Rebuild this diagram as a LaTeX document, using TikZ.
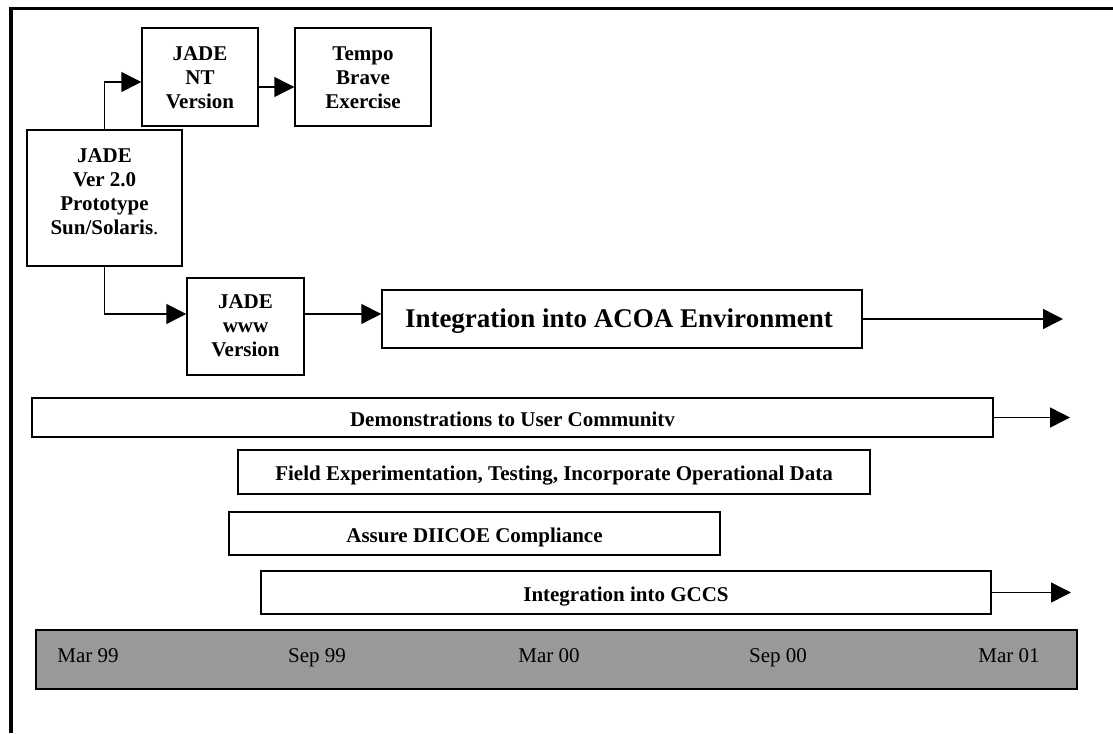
\documentclass[tikz,border=0pt]{standalone}
\usepackage{fontspec}
\setmainfont{Liberation Serif}
\usetikzlibrary{arrows.meta}
\definecolor{bargray}{RGB}{153,153,153}
\tikzset{
 box/.style={draw, line width=1.1pt, inner sep=0pt, font=\bfseries\fontsize{15.75}{18}\selectfont},
 bar/.style={draw, line width=1.1pt, inner sep=0pt, font=\bfseries\fontsize{15.75}{18}\selectfont, text height=12.9pt, text depth=0pt},
 arr/.style={line width=1.1pt, -{Triangle[length=15pt,width=15pt]}},
 tl/.style={font=\fontsize{15.75}{18}\selectfont, anchor=base, inner sep=0pt}
}
\newcommand\tbox[4]{\parbox[c][#2][t]{#1}{\centering\rule{0pt}{#3}#4}}
\begin{document}
\begin{tikzpicture}[x=0.75pt,y=-0.75pt]
\useasboundingbox (0,0) rectangle (1113,733);
\draw[line width=2.6pt] (1113,8.5) -- (10.8,8.5) -- (10.8,733);

\node[box] (main) at (104.5,198) {\tbox{116.25pt}{102pt}{24pt}{JADE\\Ver 2.0\\Prototype\\Sun/Solaris{\mdseries.}}};
\node[box] (nt) at (200,77) {\tbox{87pt}{73.5pt}{24pt}{JADE\\NT\\Version}};
\node[box] (tempo) at (363,77) {\tbox{102pt}{73.5pt}{24pt}{Tempo\\Brave\\Exercise}};
\node[box] (www) at (245.5,326.5) {\tbox{87.75pt}{72.75pt}{22.5pt}{JADE\\www\\Version}};
\node[box, minimum width=360pt, minimum height=43.5pt, font=\bfseries\fontsize{20.25}{24}\selectfont, text height=12pt, text depth=0pt] (acoa) at (622,319) {\makebox[360pt][l]{\hspace{17.25pt}Integration into ACOA Environment}};

\node[bar, minimum width=720.75pt, minimum height=29.25pt] (demo) at (512.5,417.5) {Demonstrations to User Communitv};
\node[bar, minimum width=474pt, minimum height=33pt] (field) at (554,472) {Field Experimentation, Testing, Incorporate Operational Data};
\node[bar, minimum width=368.25pt, minimum height=32.25pt] (dii) at (474.5,533.5) {Assure DIICOE Compliance};
\node[bar, minimum width=547.5pt, minimum height=32.25pt] (gccs) at (626,592.5) {Integration into GCCS};

\node[draw, line width=1.3pt, fill=bargray, minimum width=780.75pt, minimum height=44.25pt, inner sep=0pt] (time) at (556.5,659.5) {};
\node[tl] (m99) at (88,662) {Mar 99};
\node[tl] (s99) at (317,662) {Sep 99};
\node[tl] (m00) at (549,662) {Mar 00};
\node[tl] (s00) at (778,662) {Sep 00};
\node[tl] (m01) at (1009,662) {Mar 01};

\draw[arr] (main.north) |- ([yshift=-3.75pt]nt.west);
\draw[arr] ([yshift=-7.5pt]nt.east) -- ([yshift=-7.5pt]tempo.west);
\draw[arr] (main.south) |- ([yshift=9.4pt]www.west);
\coordinate (w1) at ([yshift=9.4pt]www.east);
\draw[arr] (w1) -- (w1 -| acoa.west);
\coordinate (e1) at (1063,319);
\draw[arr] (acoa.east) -- (e1);
\coordinate (e2) at (1070,417.5);
\draw[arr] (demo.east) -- (e2);
\coordinate (e3) at (1071,592.5);
\draw[arr] (gccs.east) -- (e3);
\end{tikzpicture}
\end{document}
